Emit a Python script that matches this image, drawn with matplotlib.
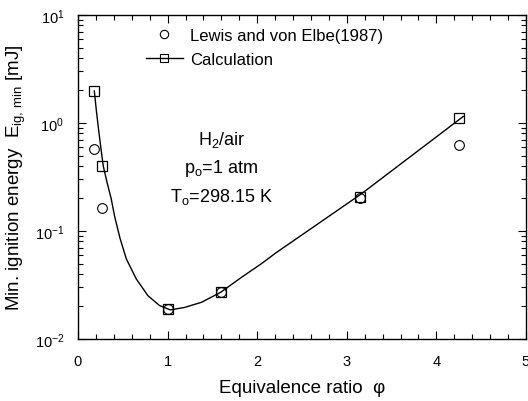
import matplotlib
matplotlib.use("Agg")
import matplotlib.pyplot as plt
from matplotlib.ticker import LogLocator, MultipleLocator, FixedLocator, NullFormatter

plt.rcParams['font.family'] = ['Liberation Sans', 'DejaVu Sans']
plt.rcParams['mathtext.fontset'] = 'custom'
plt.rcParams['mathtext.rm'] = 'Liberation Sans'
plt.rcParams['mathtext.it'] = 'Liberation Sans:italic'
plt.rcParams['mathtext.bf'] = 'Liberation Sans:bold'

# Data
phi_calc = [0.18, 0.27, 1.0, 1.6, 3.15, 4.25]
E_calc = [1.99, 0.40, 0.019, 0.027, 0.205, 1.11]

phi_exp = [0.18, 0.27, 1.0, 1.6, 3.15, 4.25]
E_exp = [0.575, 0.162, 0.019, 0.027, 0.20, 0.63]

# smooth calculation curve
phi_curve = [0.182, 0.205, 0.229, 0.255, 0.282, 0.325, 0.37, 0.41, 0.47, 0.54,
             0.65, 0.78, 0.91, 1.03, 1.19, 1.38, 1.59, 1.82, 2.05, 2.20,
             3.16, 4.30]
E_curve = [1.98, 1.30, 0.88, 0.59, 0.40, 0.28, 0.20, 0.135, 0.085, 0.055,
           0.036, 0.0252, 0.0204, 0.0186, 0.0196, 0.0219, 0.027, 0.037,
           0.050, 0.062, 0.22, 1.15]

xticks = [0, 1, 2, 3, 4, 5]
yticks = [1e-2, 1e-1, 1e0, 1e1]
ytick_labels = ['10$^{-2}$', '10$^{-1}$', '10$^{0}$', '10$^{1}$']

fig = plt.figure(figsize=(5.28, 4.02), dpi=100)
ax = fig.add_axes([78/528, 1 - 340/402, 448/528, 324/402])

ax.set_yscale('log')
ax.set_xlim(0, 5)
ax.set_ylim(1e-2, 1e1)

ax.plot(phi_curve, E_curve, color='black', lw=1.0, zorder=2)
ax.plot(phi_calc, E_calc, linestyle='none', marker='s', ms=7, mfc='none',
        mec='black', mew=0.9, zorder=3)
ax.plot(phi_exp, E_exp, linestyle='none', marker='o', ms=7, mfc='none',
        mec='black', mew=0.8, zorder=3)

# legend handles
h_exp, = ax.plot([], [], linestyle='none', marker='o', ms=6, mfc='none',
                 mec='black', mew=0.8)
h_calc, = ax.plot([], [], color='black', lw=1.0, marker='s', ms=6,
                  mfc='none', mec='black', mew=0.8)
ax.legend([h_exp, h_calc], ['Lewis and von Elbe(1987)', 'Calculation'],
          loc='upper left', bbox_to_anchor=(0.152, 0.959), frameon=False,
          fontsize=12, handlelength=2.2, handletextpad=0.42,
          labelspacing=0.5, borderpad=0, borderaxespad=0)

ax.text(1.6, 0.64, 'H$_2$/air', ha='center', va='baseline', fontsize=13)
ax.text(1.6, 0.354, 'p$_\\mathrm{o}$=1 atm', ha='center', va='baseline', fontsize=13)
ax.text(1.6, 0.191, 'T$_\\mathrm{o}$=298.15 K', ha='center', va='baseline', fontsize=13)

ax.xaxis.set_major_locator(FixedLocator(xticks))
ax.xaxis.set_minor_locator(MultipleLocator(0.2))
ax.set_xticklabels([str(t) for t in xticks])
ax.yaxis.set_major_locator(FixedLocator(yticks))
ax.set_yticklabels(ytick_labels)
ax.yaxis.set_minor_locator(LogLocator(base=10, subs=range(2, 10), numticks=20))
ax.yaxis.set_minor_formatter(NullFormatter())

ax.tick_params(which='both', direction='in', top=True, right=True,
               labelsize=10.5, width=0.8)
ax.tick_params(axis='x', which='major', length=6, pad=11)
ax.tick_params(axis='y', which='major', length=6, pad=10)
ax.tick_params(which='minor', length=3.5)
for s in ax.spines.values():
    s.set_linewidth(1.0)

ax.set_xlabel('Equivalence ratio  \u03c6', fontsize=13.5, labelpad=8)
ax.set_ylabel('Min. ignition energy  E$_{\\mathrm{ig,\\,min}}$ [mJ]', fontsize=13.5, labelpad=5)

fig.savefig('out.png', dpi=100)
